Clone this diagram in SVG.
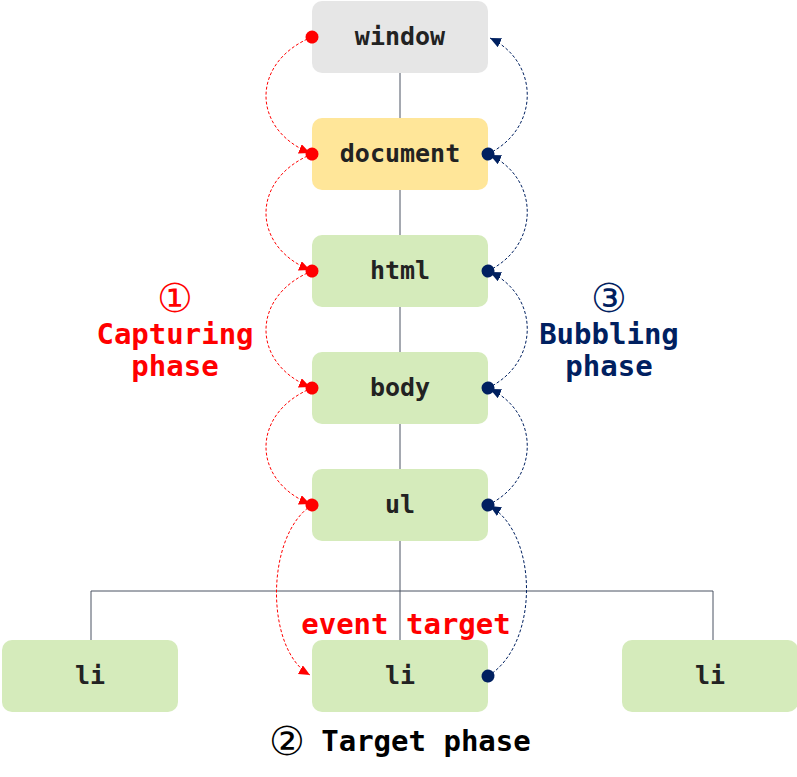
<svg xmlns="http://www.w3.org/2000/svg" width="797" height="777" viewBox="0 0 797 777">
<defs>
<style>
.box{stroke:none}
.lbl{font-family:"DejaVu Sans Mono","Liberation Mono",monospace;font-weight:bold;font-size:25px;fill:#222;text-anchor:middle}
.big{font-family:"DejaVu Sans Mono","Liberation Mono",monospace;font-weight:bold;font-size:29px;text-anchor:middle}
.circ{font-family:"DejaVu Sans","Noto Sans",sans-serif;font-size:40px;text-anchor:middle}
.tree{stroke:#4a5262;stroke-width:1;fill:none}
.cap{stroke:#ff0000;stroke-width:1;fill:none;stroke-dasharray:3 2;marker-start:url(#dotR);marker-end:url(#arrR)}
.bub{stroke:#002060;stroke-width:1;fill:none;stroke-dasharray:3 2;marker-start:url(#dotB);marker-end:url(#arrB)}
</style>
<marker id="dotR" markerUnits="userSpaceOnUse" markerWidth="16" markerHeight="16" refX="8" refY="8" orient="auto"><circle cx="8" cy="8" r="6.5" fill="#ff0000"/></marker>
<marker id="dotB" markerUnits="userSpaceOnUse" markerWidth="16" markerHeight="16" refX="8" refY="8" orient="auto"><circle cx="8" cy="8" r="6.5" fill="#002060"/></marker>
<marker id="arrR" markerUnits="userSpaceOnUse" markerWidth="12" markerHeight="12" refX="11" refY="5" orient="auto"><path d="M0,0 L11,5 L0,10 z" fill="#ff0000"/></marker>
<marker id="arrB" markerUnits="userSpaceOnUse" markerWidth="12" markerHeight="12" refX="11" refY="5" orient="auto"><path d="M0,0 L11,5 L0,10 z" fill="#002060"/></marker>
</defs>
<rect width="797" height="777" fill="#ffffff"/>
<g id="tree-lines">
<path class="tree" d="M400 73V118M400 190V235M400 307V352M400 424V469M400 541V640M91 591H713M91 591V640M713 591V640"/>
</g>
<g id="node-window"><rect class="box" x="312" y="1" width="176" height="72" rx="10" fill="#e6e6e6"/><text class="lbl" x="400" y="45">window</text></g>
<g id="node-document"><rect class="box" x="312" y="118" width="176" height="72" rx="10" fill="#ffe699"/><text class="lbl" x="400" y="162">document</text></g>
<g id="node-html"><rect class="box" x="312" y="235" width="176" height="72" rx="10" fill="#d5ebbb"/><text class="lbl" x="400" y="279">html</text></g>
<g id="node-body"><rect class="box" x="312" y="352" width="176" height="72" rx="10" fill="#d5ebbb"/><text class="lbl" x="400" y="396">body</text></g>
<g id="node-ul"><rect class="box" x="312" y="469" width="176" height="72" rx="10" fill="#d5ebbb"/><text class="lbl" x="400" y="513">ul</text></g>
<g id="node-li-left"><rect class="box" x="2" y="640" width="176" height="72" rx="10" fill="#d5ebbb"/><text class="lbl" x="90" y="684">li</text></g>
<g id="node-li-target"><rect class="box" x="312" y="640" width="176" height="72" rx="10" fill="#d5ebbb"/><text class="lbl" x="400" y="684">li</text></g>
<g id="node-li-right"><rect class="box" x="622" y="640" width="176" height="72" rx="10" fill="#d5ebbb"/><text class="lbl" x="710" y="684">li</text></g>
<g id="connectors">
<path class="cap" d="M312 37 C251 62, 251 129, 310 153"/>
<path class="cap" d="M312 154 C251 179, 251 246, 310 270"/>
<path class="cap" d="M312 271 C251 296, 251 363, 310 387"/>
<path class="cap" d="M312 388 C251 413, 251 480, 310 504"/>
<path class="cap" d="M312 505 C265 535, 265 650, 310 675"/>
<path class="bub" d="M488 154 C540 129, 540 62, 490 38"/>
<path class="bub" d="M488 271 C540 246, 540 179, 490 155"/>
<path class="bub" d="M488 388 C540 363, 540 296, 490 272"/>
<path class="bub" d="M488 505 C540 480, 540 413, 490 389"/>
<path class="bub" d="M488 676 C539 645, 539 535, 490 506"/>
</g>
<g id="labels">
<text class="circ" x="175" y="312" fill="#ff0000">①</text>
<text class="big" x="175" y="344" fill="#ff0000">Capturing</text>
<text class="big" x="175" y="376" fill="#ff0000">phase</text>
<text class="circ" x="609" y="312" fill="#002060">③</text>
<text class="big" x="609" y="344" fill="#002060">Bubbling</text>
<text class="big" x="609" y="376" fill="#002060">phase</text>
<text class="big" x="406" y="634" fill="#ff0000">event target</text>
<text class="circ" x="287" y="755" fill="#000000">②</text>
<text class="big" x="426" y="751" fill="#000000">Target phase</text>
</g>
</svg>
